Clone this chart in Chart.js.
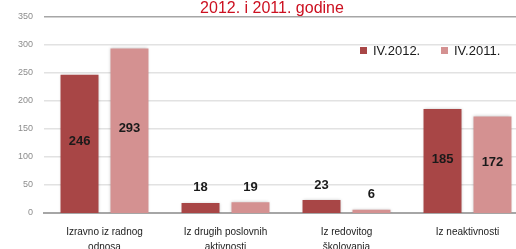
<!DOCTYPE html>
<html>
<head>
<meta charset="utf-8">
<script src="https://cdn.jsdelivr.net/npm/chart.js@4"></script>
<style>
html,body{margin:0;padding:0;background:#fff;overflow:hidden;}
#wrap{position:relative;width:516px;height:249px;overflow:hidden;}
#c{position:absolute;left:0;top:0;}
</style>
</head>
<body>
<div id="wrap"><canvas id="c" width="530" height="249"></canvas></div>
<script>
const titleText = '2012. i 2011. godine';
const categories = [
  ['Izravno iz radnog', 'odnosa'],
  ['Iz drugih poslovnih', 'aktivnosti'],
  ['Iz redovitog', 'školovanja'],
  ['Iz neaktivnosti']
];
const seriesNames = ['IV.2012.', 'IV.2011.'];
const values2012 = [246, 18, 23, 185];
const values2011 = [293, 19, 6, 172];
const yMax = 350;
const yStep = 50;

const colors = ['#a84646', '#d49191'];

const shadowPlugin = {
  id: 'barShadow',
  beforeDatasetsDraw(chart) {
    const ctx = chart.ctx;
    ctx.save();
    ctx.shadowColor = 'rgba(0,0,0,0.22)';
    ctx.shadowBlur = 3;
    ctx.shadowOffsetX = 0;
    ctx.shadowOffsetY = 0;
  },
  afterDatasetsDraw(chart) {
    chart.ctx.restore();
  }
};

const labelPlugin = {
  id: 'valueLabels',
  afterDatasetsDraw(chart) {
    const ctx = chart.ctx;
    ctx.save();
    ctx.font = 'bold 13px "Liberation Sans", Arial, sans-serif';
    ctx.fillStyle = '#1a1a1a';
    ctx.textAlign = 'center';
    ctx.textBaseline = 'middle';
    chart.data.datasets.forEach((ds, di) => {
      const meta = chart.getDatasetMeta(di);
      meta.data.forEach((el, i) => {
        const v = ds.data[i];
        let y;
        if (v >= 100) y = (el.y + el.base) / 2 - 2;
        else y = el.y - 15;
        ctx.fillText(String(v), el.x, y);
      });
    });
    ctx.restore();
  }
};

const titleLegendPlugin = {
  id: 'titleLegend',
  afterDraw(chart) {
    const ctx = chart.ctx;
    ctx.save();
    ctx.font = '16px "Liberation Sans", Arial, sans-serif';
    ctx.fillStyle = '#cc1020';
    ctx.textAlign = 'center';
    ctx.textBaseline = 'alphabetic';
    ctx.fillText(titleText, 272, 13);
    // legend
    ctx.font = '13px "Liberation Sans", Arial, sans-serif';
    ctx.textAlign = 'left';
    ctx.textBaseline = 'middle';
    const xs = [360, 441];
    chart.data.datasets.forEach((ds, i) => {
      ctx.fillStyle = ds.backgroundColor;
      ctx.fillRect(xs[i], 47, 7, 7);
      ctx.fillStyle = '#1a1a1a';
      ctx.fillText(ds.label, xs[i] + 13, 51);
    });
    ctx.restore();
  }
};

new Chart(document.getElementById('c'), {
  type: 'bar',
  data: {
    labels: categories,
    datasets: [
      { label: seriesNames[0], data: values2012, backgroundColor: colors[0] },
      { label: seriesNames[1], data: values2011, backgroundColor: colors[1] }
    ]
  },
  options: {
    responsive: false,
    animation: false,
    devicePixelRatio: 1,
    layout: { padding: { top: 14, left: 0, right: 2, bottom: 0 } },
    datasets: { bar: { categoryPercentage: 0.826, barPercentage: 0.76 } },
    plugins: {
      legend: { display: false },
      title: { display: false },
      tooltip: { enabled: false }
    },
    scales: {
      x: {
        z: 1,
        grid: { display: false, drawTicks: false },
        border: { display: true, color: '#a6a6a6', width: 2 },
        ticks: {
          color: '#222',
          font: { size: 10, family: '"Liberation Sans", Arial, sans-serif', lineHeight: 1.45 },
          padding: 12,
          maxRotation: 0,
          autoSkip: false
        },
        afterFit(s) { s.height = 36; }
      },
      y: {
        min: 0,
        max: yMax,
        grid: {
          drawTicks: false,
          color: (c) => (c.tick && c.tick.value === yMax ? '#a6a6a6' : '#e2e2e2'),
          lineWidth: (c) => (c.tick && c.tick.value === 0 ? 0 : 1.5)
        },
        border: { display: false },
        ticks: {
          stepSize: yStep,
          color: '#8c8c8c',
          font: { size: 9, family: '"Liberation Sans", Arial, sans-serif' },
          padding: 11
        },
        afterFit(s) { s.width = 44; }
      }
    }
  },
  plugins: [shadowPlugin, labelPlugin, titleLegendPlugin]
});
</script>
</body>
</html>
